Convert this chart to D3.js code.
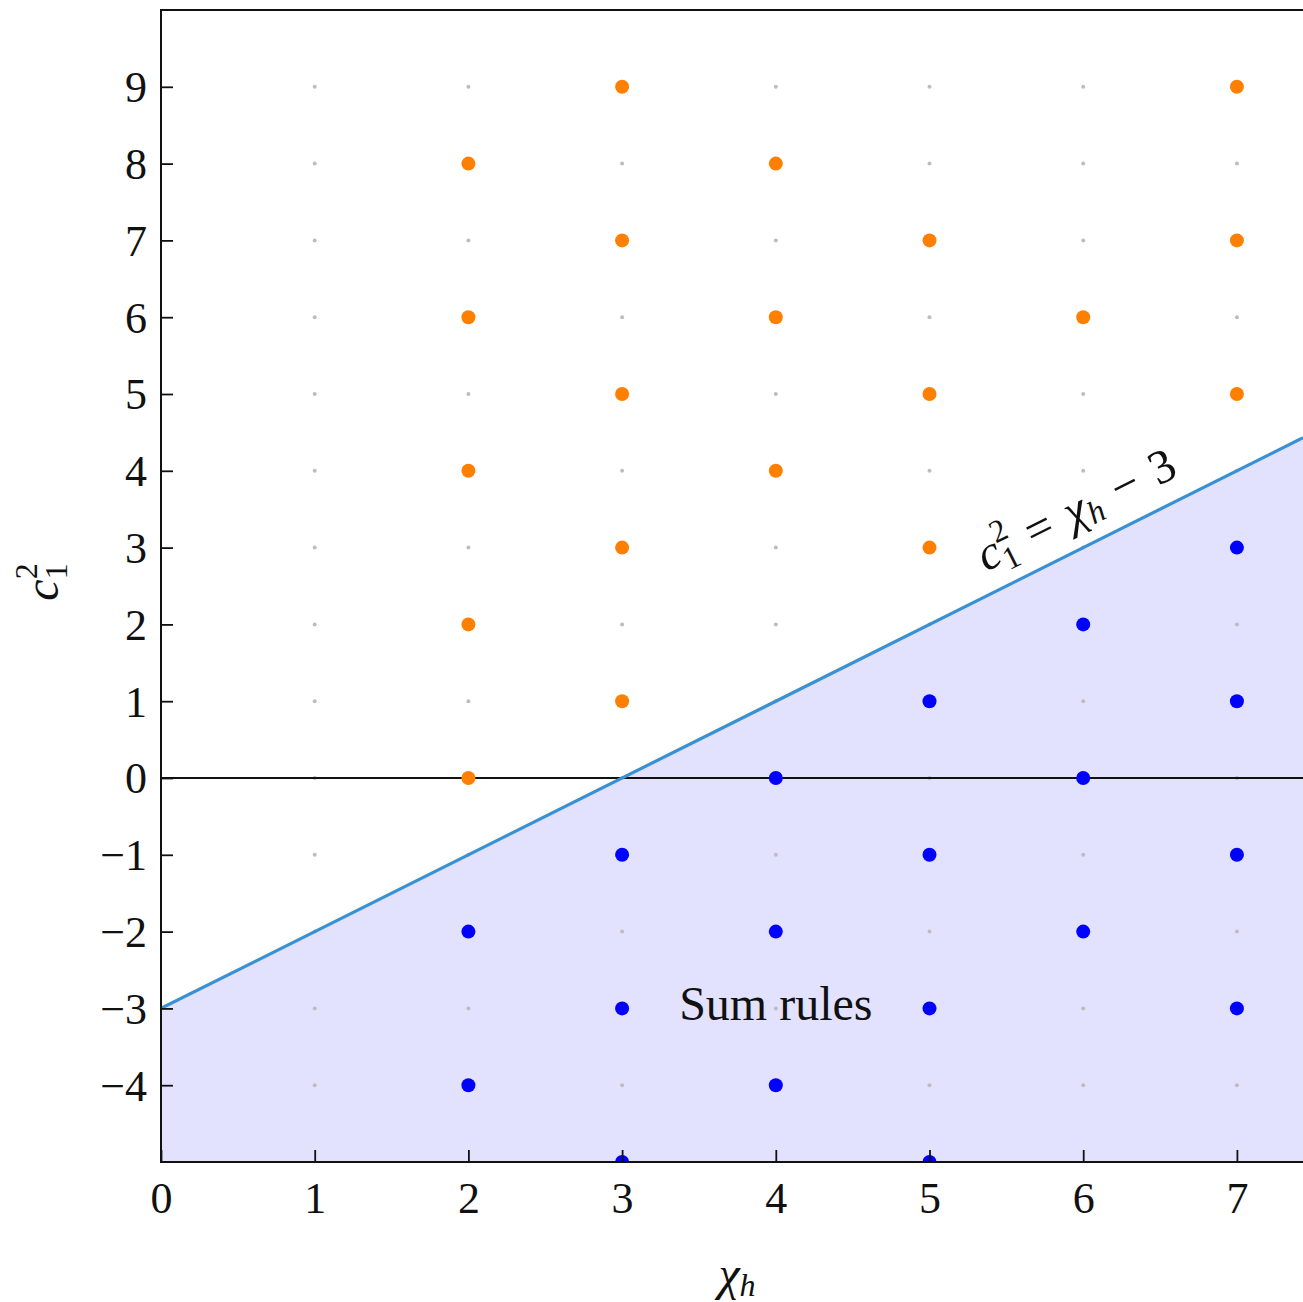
<!DOCTYPE html>
<html><head><meta charset="utf-8">
<script src="https://cdn.jsdelivr.net/npm/d3@7"></script>
<style>body{margin:0;background:#fff}svg{display:block}text{font-family:"Liberation Serif","DejaVu Serif",serif;fill:#111}</style>
</head><body>
<script>
const xTicks=[0,1,2,3,4,5,6,7];
const yTicks=[-4,-3,-2,-1,0,1,2,3,4,5,6,7,8,9];
const gridX=[1,2,3,4,5,6,7];
const gridY=[-4,-3,-2,-1,0,1,2,3,4,5,6,7,8,9];
const orangePts=[[2,8],[2,6],[2,4],[2,2],[2,0],[3,9],[3,7],[3,5],[3,3],[3,1],[4,8],[4,6],[4,4],[5,7],[5,5],[5,3],[6,6],[7,9],[7,7],[7,5]];
const bluePts=[[2,-2],[2,-4],[3,-1],[3,-3],[3,-5],[4,0],[4,-2],[4,-4],[5,1],[5,-1],[5,-3],[5,-5],[6,2],[6,0],[6,-2],[7,3],[7,1],[7,-1],[7,-3]];
const lineX=[0,7.43];
const lineOffset=-3;

const W=1303,H=1302;
const L=161,T=10,R=1303,B=1162;
const x=d3.scaleLinear().domain([0,7.43]).range([L,R]);
const y=d3.scaleLinear().domain([-5,10]).range([B,T]);
const svg=d3.select("body").append("svg").attr("width",W).attr("height",H);
const defs=svg.append("defs");
defs.append("clipPath").attr("id","clip").append("rect").attr("x",L).attr("y",T).attr("width",R-L).attr("height",B-T);
const g=svg.append("g").attr("clip-path","url(#clip)");

const poly=[[lineX[0],lineX[0]+lineOffset],[lineX[1],lineX[1]+lineOffset],[lineX[1],-5],[lineX[0],-5]];
g.append("path").attr("d",d3.line().x(d=>x(d[0])).y(d=>y(d[1]))(poly)).attr("fill","#e2e2ff");

const grid=[];gridX.forEach(a=>gridY.forEach(b=>grid.push([a,b])));
g.selectAll(".gd").data(grid).join("circle").attr("cx",d=>x(d[0])).attr("cy",d=>y(d[1])).attr("r",2).attr("fill","#bdbdbd");

g.append("line").attr("x1",L).attr("x2",R).attr("y1",y(0)).attr("y2",y(0)).attr("stroke","#111").attr("stroke-width",1.8);

g.append("path").attr("d",d3.line().x(d=>x(d)).y(d=>y(d+lineOffset))(lineX)).attr("stroke","#3990d4").attr("stroke-width",3.2).attr("fill","none");

g.selectAll(".od").data(orangePts).join("circle").attr("cx",d=>x(d[0])).attr("cy",d=>y(d[1])).attr("r",7).attr("fill","#ff8000");
g.selectAll(".bd").data(bluePts).join("circle").attr("cx",d=>x(d[0])).attr("cy",d=>y(d[1])).attr("r",7).attr("fill","#0000ff");

svg.append("path").attr("d",`M${R},${T}H${L}V${B}H${R}`).attr("fill","none").attr("stroke","#111").attr("stroke-width",2);

const fs=44;
const xa=svg.append("g").attr("transform",`translate(0,${B})`).call(d3.axisBottom(x).tickValues(xTicks).tickSizeInner(-12).tickSizeOuter(0).tickPadding(20).tickFormat(d3.format("d")));
const ya=svg.append("g").attr("transform",`translate(${L},0)`).call(d3.axisLeft(y).tickValues(yTicks).tickSizeInner(-12).tickSizeOuter(0).tickPadding(14).tickFormat(d=>d<0?"\u2212"+(-d):d));
[xa,ya].forEach(a=>{a.select(".domain").remove();a.selectAll("line").attr("stroke","#111").attr("stroke-width",1.8);a.selectAll("text").style("font-size",fs+"px").attr("fill","#111").style("font-family",'"Liberation Serif",serif');});
xa.selectAll("text").attr("dy","0.71em");
ya.selectAll("text").attr("dy","0.34em");

const xl=svg.append("text").attr("x",737).attr("y",1290).attr("text-anchor","middle").style("font-size","48px").style("font-style","italic");
xl.append("tspan").text("\u03c7");
xl.append("tspan").text("h").attr("dy",6).style("font-size","32px");

const yl=svg.append("text").attr("transform","translate(58,582) rotate(-90)").attr("text-anchor","middle").style("font-size","48px").style("font-style","italic");
yl.append("tspan").text("c");
yl.append("tspan").text("1").attr("dy",9).style("font-size","32px").style("font-style","normal");
yl.append("tspan").text("2").attr("dy",-30).attr("dx",-16).style("font-size","32px").style("font-style","normal");

const ang=-Math.atan((y(0)-y(1))/(x(1)-x(0)))*180/Math.PI;
const ll=svg.append("text").attr("transform",`translate(986,572) rotate(${ang})`).style("font-size","48px");
ll.append("tspan").text("c").style("font-style","italic");
ll.append("tspan").text("1").attr("dy",9).style("font-size","32px");
ll.append("tspan").text("2").attr("dy",-30).attr("dx",-16).style("font-size","32px");
ll.append("tspan").text("\u2004=\u2004").attr("dy",21);
ll.append("tspan").text("\u03c7").style("font-style","italic");
ll.append("tspan").text("h").attr("dy",6).style("font-size","32px").style("font-style","italic");
ll.append("tspan").text("\u2004\u2212\u20043").attr("dy",-6);

svg.append("text").attr("x",x(4)).attr("y",1020).attr("text-anchor","middle").style("font-size","48px").text("Sum rules");
</script>
</body></html>
